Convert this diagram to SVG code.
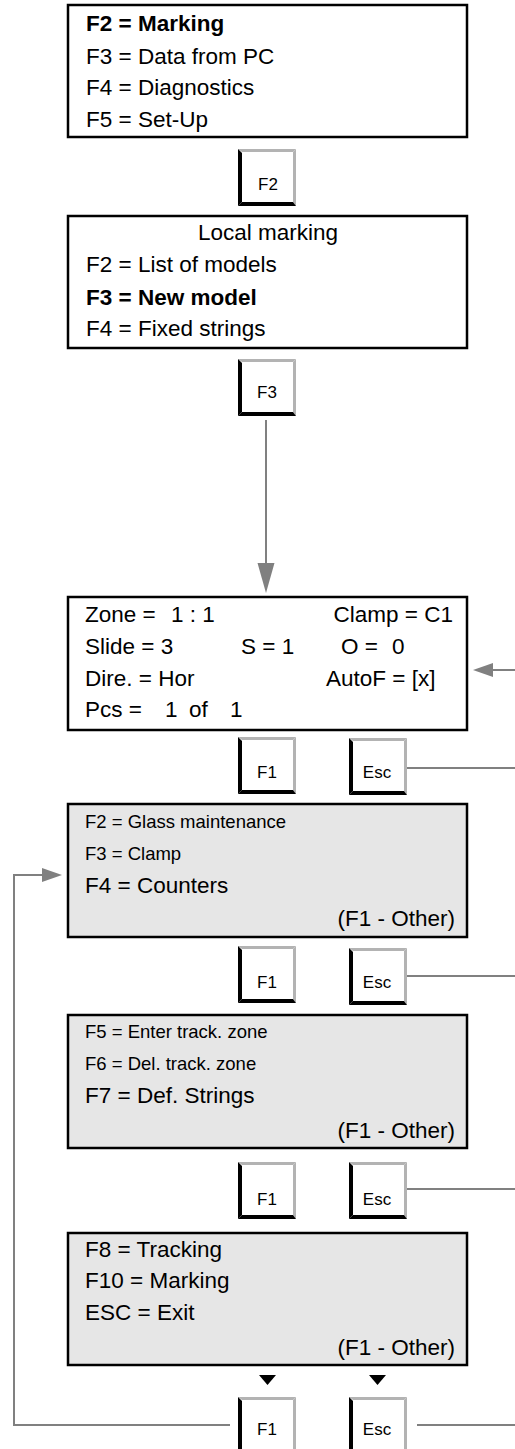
<svg xmlns="http://www.w3.org/2000/svg" width="515" height="1449" viewBox="0 0 515 1449">
<style>
.box{stroke:#000;stroke-width:2.5}
.w{fill:#fff}
.g{fill:#e6e6e6}
text{font-family:"Liberation Sans",Arial,sans-serif;fill:#000;white-space:pre}
.t{font-size:22.5px}
.s{font-size:18.5px}
.b{font-weight:bold}
.k{font-size:17px;text-anchor:middle}
.c{text-anchor:middle}
.e{text-anchor:end}
.ln{fill:none;stroke:#808080;stroke-width:2}
.ah{fill:#808080}
</style>
<defs>
<g id="key">
<rect x="0" y="0" width="58" height="57" fill="#fff"/>
<polygon points="0,0 58,0 55,3 4,3" fill="#b3b3b3"/>
<polygon points="58,0 58,57 55,53 55,3" fill="#b3b3b3"/>
<polygon points="0,0 4,4 4,53 0,57" fill="#000"/>
<polygon points="0,57 4,53 55,53 58,57" fill="#000"/>
</g>
</defs>

<g id="connectors">
<line class="ln" x1="266" y1="420" x2="266" y2="565"/>
<polygon class="ah" points="257.5,563 274.5,563 266,593"/>
<line class="ln" x1="515" y1="670" x2="491" y2="670"/>
<polygon class="ah" points="473,670 493,663 493,677"/>
<line class="ln" x1="407" y1="768" x2="515" y2="768"/>
<line class="ln" x1="407" y1="976" x2="515" y2="976"/>
<line class="ln" x1="407" y1="1189" x2="515" y2="1189"/>
<line class="ln" x1="417" y1="1425" x2="515" y2="1425"/>
<polyline class="ln" points="230,1425 14,1425 14,875 44,875"/>
<polygon class="ah" points="62,875 42,868 42,882"/>
<polygon fill="#000" points="259,1375 276,1375 267.5,1385"/>
<polygon fill="#000" points="369,1375 386,1375 377.5,1385"/>
</g>

<g id="menu-main">
<rect class="box w" x="68" y="5" width="399" height="132"/>
<text class="t b" x="86" y="31">F2 = Marking</text>
<text class="t" x="86" y="64">F3 = Data from PC</text>
<text class="t" x="86" y="95">F4 = Diagnostics</text>
<text class="t" x="86" y="127">F5 = Set-Up</text>
</g>

<g id="key-f2">
<use href="#key" x="238" y="149"/>
<text class="k" x="268" y="190">F2</text>
</g>

<g id="menu-local">
<rect class="box w" x="68" y="216" width="399" height="132"/>
<text class="t c" x="268" y="240">Local marking</text>
<text class="t" x="86" y="272">F2 = List of models</text>
<text class="t b" x="86" y="305">F3 = New model</text>
<text class="t" x="86" y="336">F4 = Fixed strings</text>
</g>

<g id="key-f3">
<use href="#key" x="238" y="359"/>
<text class="k" x="267" y="398">F3</text>
</g>

<g id="screen-model">
<rect class="box w" x="68" y="597" width="399" height="133"/>
<text class="t" x="85" y="622">Zone =<tspan x="171">1 : 1</tspan></text>
<text class="t e" x="453" y="622">Clamp = C1</text>
<text class="t" x="85" y="654">Slide = 3</text>
<text class="t" x="241" y="654">S = 1</text>
<text class="t" x="341" y="654">O =<tspan x="392">0</tspan></text>
<text class="t" x="85" y="686">Dire. = Hor</text>
<text class="t" x="326" y="686">AutoF = [x]</text>
<text class="t" x="85" y="717">Pcs =<tspan x="165">1</tspan><tspan x="189">of</tspan><tspan x="230">1</tspan></text>
</g>

<g id="keys-row1">
<use href="#key" x="238" y="737"/>
<text class="k" x="267" y="778">F1</text>
<use href="#key" x="349" y="738"/>
<text class="k" x="377" y="778">Esc</text>
</g>

<g id="menu-other1">
<rect class="box g" x="68" y="804" width="399" height="133"/>
<text class="s" x="85" y="828">F2 = Glass maintenance</text>
<text class="s" x="85" y="860">F3 = Clamp</text>
<text class="t" x="85" y="893">F4 = Counters</text>
<text class="t e" x="455" y="926">(F1 - Other)</text>
</g>

<g id="keys-row2">
<use href="#key" x="238" y="946"/>
<text class="k" x="267" y="988">F1</text>
<use href="#key" x="349" y="948"/>
<text class="k" x="377" y="988">Esc</text>
</g>

<g id="menu-other2">
<rect class="box g" x="68" y="1015" width="399" height="133"/>
<text class="s" x="85" y="1038">F5 = Enter track. zone</text>
<text class="s" x="85" y="1070">F6 = Del. track. zone</text>
<text class="t" x="85" y="1103">F7 = Def. Strings</text>
<text class="t e" x="455" y="1138">(F1 - Other)</text>
</g>

<g id="keys-row3">
<use href="#key" x="238" y="1162"/>
<text class="k" x="267" y="1205">F1</text>
<use href="#key" x="349" y="1162"/>
<text class="k" x="377" y="1205">Esc</text>
</g>

<g id="menu-other3">
<rect class="box g" x="68" y="1233" width="399" height="132"/>
<text class="t" x="85" y="1257">F8 = Tracking</text>
<text class="t" x="85" y="1288">F10 = Marking</text>
<text class="t" x="85" y="1320">ESC = Exit</text>
<text class="t e" x="455" y="1355">(F1 - Other)</text>
</g>

<g id="keys-row4">
<use href="#key" x="238" y="1397"/>
<text class="k" x="267" y="1435">F1</text>
<use href="#key" x="349" y="1397"/>
<text class="k" x="377" y="1435">Esc</text>
</g>
</svg>
